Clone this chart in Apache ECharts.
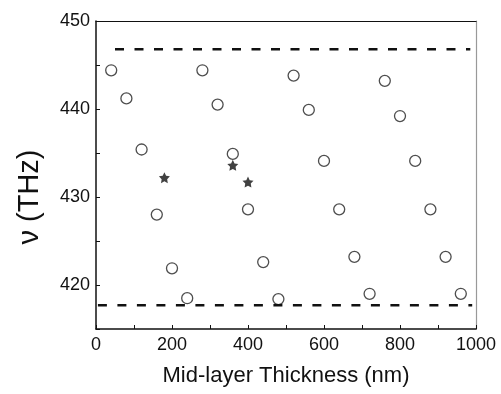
<!DOCTYPE html>
<html><head><meta charset="utf-8">
<script src="https://cdn.jsdelivr.net/npm/echarts@6/dist/echarts.min.js"></script>
<style>html,body{margin:0;padding:0;background:#fff}#c{width:501px;height:394px}</style>
</head><body><div id="c"></div>
<script>
const circleX = [40,80,120,160,200,240,280,320,360,400,440,480,520,560,600,640,680,720,760,800,840,880,920,960];
const circleY = [444.4,441.2,435.4,428.0,421.9,418.5,444.4,440.5,434.9,428.6,422.6,418.4,443.8,439.9,434.1,428.6,423.2,419.0,443.2,439.2,434.1,428.6,423.2,419.0];
const starX = [180,360,400];
const starY = [432.2,433.6,431.7];
const upperLimitX = [50,985];
const upperLimitY = [446.8,446.8];
const lowerLimitX = [5,990];
const lowerLimitY = [417.7,417.7];
const xTickLabels = [0,200,400,600,800,1000];
const yTickLabels = [420,430,440,450];

const zip = (a,b)=>a.map((v,i)=>[v,b[i]]);
const starPath = 'path://M0,-10 L2.94,-4.05 L9.51,-3.09 L4.76,1.55 L5.88,8.09 L0,5 L-5.88,8.09 L-4.76,1.55 L-9.51,-3.09 L-2.94,-4.05 Z';
const font = '"Liberation Sans", Arial, sans-serif';

const chart = echarts.init(document.getElementById('c'));
chart.setOption({
  animation:false,
  backgroundColor:'#fff',
  grid:{left:96,right:25,top:21,bottom:65,show:false},
  graphic:[{
    type:'text',x:30,y:197,rotation:Math.PI/2,
    style:{text:'ν (THz)',fontFamily:font,fontSize:29,fill:'#111',
      align:'center',verticalAlign:'middle'}
  }],
  xAxis:[{
    type:'value',min:0,max:1000,interval:100,
    name:'Mid-layer Thickness (nm)',nameLocation:'middle',nameGap:36,
    nameTextStyle:{fontFamily:font,fontSize:22,color:'#111'},
    axisLine:{lineStyle:{color:'#111',width:1.5}},
    axisTick:{inside:true,length:4,lineStyle:{color:'#111'}},
    axisLabel:{fontFamily:font,fontSize:18,color:'#111',margin:7,
      formatter:v=>xTickLabels.includes(v)?String(v):''},
    splitLine:{show:false}
  },{
    type:'value',min:0,max:1000,position:'top',
    axisLine:{show:true,onZero:false,lineStyle:{color:'#111',width:1.2}},
    axisTick:{show:false},axisLabel:{show:false},splitLine:{show:false}
  }],
  yAxis:[{
    type:'value',min:415,max:450,interval:5,
    axisLine:{lineStyle:{color:'#111',width:1.5}},
    axisTick:{inside:true,length:4,lineStyle:{color:'#111'}},
    axisLabel:{fontFamily:font,fontSize:18,color:'#111',margin:6,
      formatter:v=>yTickLabels.includes(v)?String(v):''},
    splitLine:{show:false}
  },{
    type:'value',min:415,max:450,position:'right',
    axisLine:{show:true,onZero:false,lineStyle:{color:'#999',width:1.2}},
    axisTick:{show:false},axisLabel:{show:false},splitLine:{show:false}
  }],
  series:[
    {type:'line',data:zip(upperLimitX,upperLimitY),symbol:'none',
     lineStyle:{color:'#111',width:2.5,type:[9,10.5]}},
    {type:'line',data:zip(lowerLimitX,lowerLimitY),symbol:'none',
     lineStyle:{color:'#111',width:2.5,type:[9,10.5]}},
    {type:'scatter',data:zip(circleX,circleY),symbol:'circle',symbolSize:11,
     itemStyle:{color:'#fff',borderColor:'#222',borderWidth:1.3}},
    {type:'scatter',data:zip(starX,starY),symbol:starPath,symbolSize:11,
     itemStyle:{color:'#111'}}
  ]
});
</script></body></html>
